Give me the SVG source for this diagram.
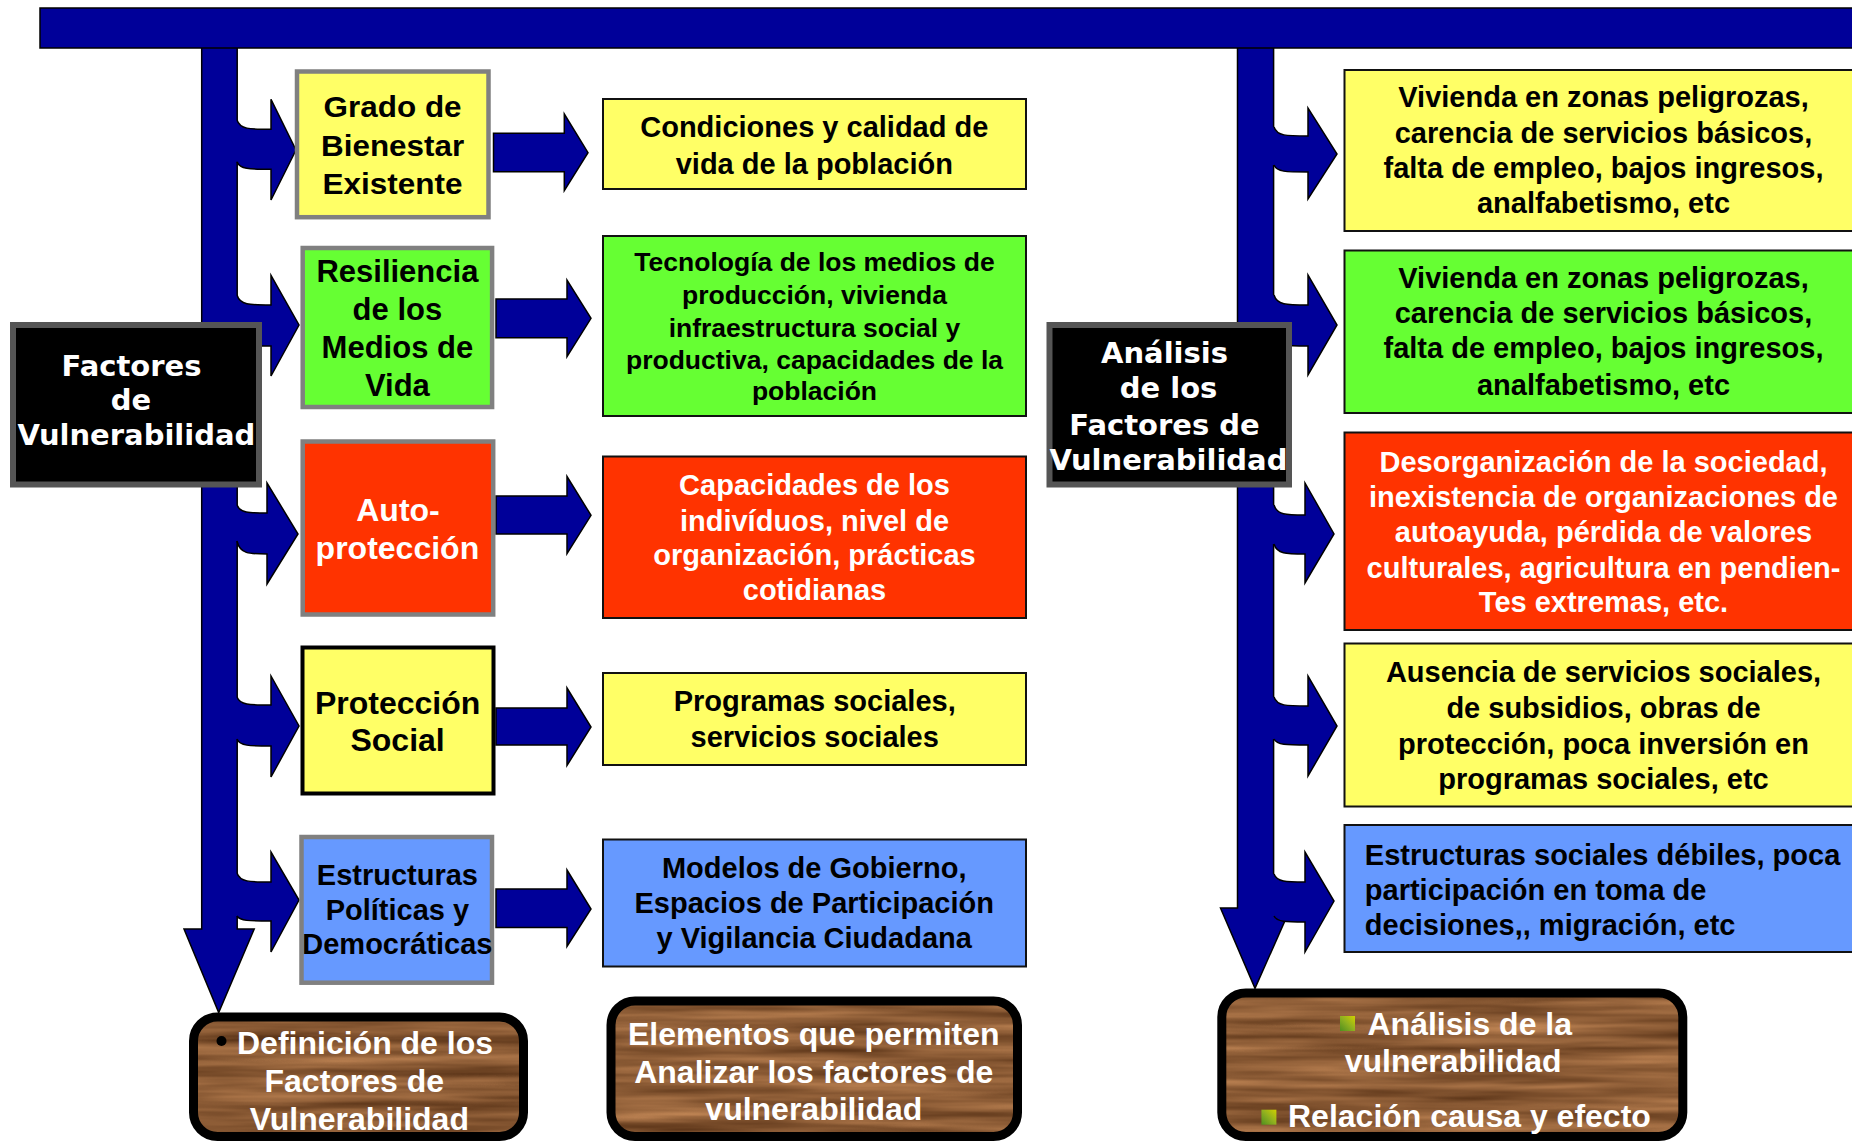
<svg xmlns="http://www.w3.org/2000/svg" width="1852" height="1142" viewBox="0 0 1852 1142">
<style>
.bar{fill:#000099;stroke:#000;stroke-width:1.5}
.af{fill:#000099;stroke:none}
.ao{fill:none;stroke:#000;stroke-width:1.5}
.blk{fill:#000;stroke:#555;stroke-width:6}
.gy{stroke:#808080;stroke-width:4.5}
.bk{stroke:#000;stroke-width:4}
.th{stroke:#111;stroke-width:2}
.y{fill:#FFFF66}.g{fill:#66FF33}.r{fill:#FF3300}.b{fill:#6699FF}
.wood-b{fill:none;stroke:#000;stroke-width:9}
.t{font-family:"Liberation Sans",Arial,sans-serif;font-weight:bold;text-anchor:middle;fill:#000}
.ts{font-family:"Liberation Sans",Arial,sans-serif;font-weight:bold;text-anchor:start;fill:#000}
.w{fill:#fff}
.dv{font-family:"DejaVu Sans",Verdana,sans-serif;font-weight:bold;fill:#fff;text-anchor:middle;font-size:29px}
</style>
<defs>
<filter id="wood" filterUnits="userSpaceOnUse" x="0" y="980" width="1852" height="170" color-interpolation-filters="sRGB">
<feTurbulence type="fractalNoise" baseFrequency="0.005 0.09" numOctaves="3" seed="7"/>
<feColorMatrix type="matrix" values="0.5 0 0 0 0.3  0.4 0 0 0 0.16  0.3 0 0 0 0.06  0 0 0 0 1"/>
</filter>
<clipPath id="c1"><rect x="193.5" y="1017" width="330" height="119.5" rx="24"/></clipPath>
<clipPath id="c2"><rect x="611" y="1001" width="406.5" height="135.5" rx="24"/></clipPath>
<clipPath id="c3"><rect x="1221.8" y="993" width="461" height="143.5" rx="24"/></clipPath>
<linearGradient id="sq" x1="0" y1="1" x2="1" y2="0">
<stop offset="0" stop-color="#4f8f1f"/><stop offset="0.5" stop-color="#8fb020"/><stop offset="1" stop-color="#d0d000"/>
</linearGradient>
</defs>

<g id="connectors">
<path class="bar" d="M201.7,46 L201.7,929 L184,929 L218.7,1012.6 L254.2,929 L237.2,929 L237.2,46 Z"/>
<path class="bar" d="M1237.5,46 L1237.5,908 L1220.5,908 L1255,988.4 L1290.6,908 L1273.6,908 L1273.6,46 Z"/>
<rect class="bar" x="40" y="8" width="1830" height="40"/>

<path class="af" d="M235,120 L237,120 C240,129.3 249,129.3 271,129.3 L271,99.3 L296,150 L271,200 L271,169.3 C249,169.3 240,169.3 237,161.7 L235,161.7 Z"/>
<path class="ao" d="M237,120 C240,129.3 249,129.3 271,129.3 L271,99.3 L296,150 L271,200 L271,169.3 C249,169.3 240,169.3 237,161.7"/>
<path class="af" d="M235,295 L237,295 C240,305 249,305 271,305 L271,275.3 L299,325 L271,376 L271,346 C249,346 240,346 237,338 L235,338 Z"/>
<path class="ao" d="M237,295 C240,305 249,305 271,305 L271,275.3 L299,325 L271,376 L271,346 C249,346 240,346 237,338"/>
<path class="af" d="M235,505 L237,505 C240,513 249,513 267,513 L267,483 L298,534 L267,584 L267,554 C249,554 240,554 237,541 L235,541 Z"/>
<path class="ao" d="M237,505 C240,513 249,513 267,513 L267,483 L298,534 L267,584 L267,554 C249,554 240,554 237,541"/>
<path class="af" d="M235,697 L237,697 C240,705 249,705 271,705 L271,676 L299,726 L271,777 L271,746 C249,746 240,746 237,739 L235,739 Z"/>
<path class="ao" d="M237,697 C240,705 249,705 271,705 L271,676 L299,726 L271,777 L271,746 C249,746 240,746 237,739"/>
<path class="af" d="M235,873 L237,873 C240,882 249,882 271,882 L271,852 L299,900 L271,952 L271,921 C249,921 240,921 237,916 L235,916 Z"/>
<path class="ao" d="M237,873 C240,882 249,882 271,882 L271,852 L299,900 L271,952 L271,921 C249,921 240,921 237,916"/>

<path class="af" d="M1272,127 L1274,127 C1277,136 1286,136 1308,136 L1308,108 L1337,154 L1308,199 L1308,172 C1286,172 1277,172 1274,165 L1272,165 Z"/>
<path class="ao" d="M1274,127 C1277,136 1286,136 1308,136 L1308,108 L1337,154 L1308,199 L1308,172 C1286,172 1277,172 1274,165"/>
<path class="af" d="M1272,295 L1274,295 C1277,305 1286,305 1308,305 L1308,275 L1337,325 L1308,375 L1308,346 C1286,346 1277,346 1274,338 L1272,338 Z"/>
<path class="ao" d="M1274,295 C1277,305 1286,305 1308,305 L1308,275 L1337,325 L1308,375 L1308,346 C1286,346 1277,346 1274,338"/>
<path class="af" d="M1272,505 L1274,505 C1277,515 1286,515 1305,515 L1305,483 L1334,534 L1305,583 L1305,554 C1286,554 1277,554 1274,544 L1272,544 Z"/>
<path class="ao" d="M1274,505 C1277,515 1286,515 1305,515 L1305,483 L1334,534 L1305,583 L1305,554 C1286,554 1277,554 1274,544"/>
<path class="af" d="M1272,697 L1274,697 C1277,706 1286,706 1308,706 L1308,676 L1337,726 L1308,776 L1308,745 C1286,745 1277,745 1274,739 L1272,739 Z"/>
<path class="ao" d="M1274,697 C1277,706 1286,706 1308,706 L1308,676 L1337,726 L1308,776 L1308,745 C1286,745 1277,745 1274,739"/>
<path class="af" d="M1272,874 L1274,874 C1277,882 1286,882 1305,882 L1305,852 L1334,901 L1305,952 L1305,922 C1286,922 1277,922 1274,916 L1272,916 Z"/>
<path class="ao" d="M1274,874 C1277,882 1286,882 1305,882 L1305,852 L1334,901 L1305,952 L1305,922 C1286,922 1277,922 1274,916"/>

<path class="bar" d="M493.5,133.3 L564.3,133.3 L564.3,114 L588,152.7 L564.3,190.7 L564.3,171.7 L493.5,171.7 Z"/>
<path class="bar" d="M496,299 L567,299 L567,280 L591,318.3 L567,356.7 L567,337.7 L496,337.7 Z"/>
<path class="bar" d="M496,496 L567,496 L567,476.5 L591,515.3 L567,553.7 L567,534 L496,534 Z"/>
<path class="bar" d="M496,708 L567,708 L567,688 L591,727 L567,765.5 L567,745 L496,745 Z"/>
<path class="bar" d="M496,889 L567,889 L567,870 L591,909 L567,946.5 L567,927.5 L496,927.5 Z"/>
</g>

<g id="factores">
<rect class="blk" x="13" y="325" width="246" height="159.5"/>
<text class="dv" x="131.5" y="375.7">Factores</text>
<text class="dv" x="131" y="410">de</text>
<text class="dv" x="136.4" y="445">Vulnerabilidad</text>
</g>
<g id="analisis">
<rect class="blk" x="1049.5" y="325" width="239.5" height="159.5"/>
<text class="dv" x="1164.5" y="363.3">Análisis</text>
<text class="dv" x="1168.5" y="398.3">de los</text>
<text class="dv" x="1164.5" y="435">Factores de</text>
<text class="dv" x="1168.5" y="470">Vulnerabilidad</text>
</g>

<g id="grado">
<rect class="y gy" x="297" y="71.5" width="191.5" height="145.7"/>
<text class="t" font-size="30" x="392.6" y="117.3" textLength="138" lengthAdjust="spacingAndGlyphs">Grado de</text>
<text class="t" font-size="30" x="392.6" y="156" textLength="143" lengthAdjust="spacingAndGlyphs">Bienestar</text>
<text class="t" font-size="30" x="392.6" y="194.3" textLength="140" lengthAdjust="spacingAndGlyphs">Existente</text>
</g>
<g id="resiliencia">
<rect class="g gy" x="302.7" y="248" width="189.4" height="159"/>
<text class="t" font-size="31" x="397.4" y="282">Resiliencia</text>
<text class="t" font-size="31" x="397.4" y="320">de los</text>
<text class="t" font-size="31" x="397.4" y="358.3">Medios de</text>
<text class="t" font-size="31" x="397.4" y="396">Vida</text>
</g>
<g id="autoproteccion">
<rect class="r gy" x="302.7" y="441.5" width="190.5" height="173"/>
<text class="t w" font-size="32" x="398" y="520.6">Auto-</text>
<text class="t w" font-size="32" x="397.4" y="559.4">protección</text>
</g>
<g id="proteccion-social">
<rect class="y bk" x="302.5" y="647.5" width="191" height="146"/>
<text class="t" font-size="32" x="397.6" y="714">Protección</text>
<text class="t" font-size="32" x="397.6" y="751.4">Social</text>
</g>
<g id="estructuras">
<rect class="b gy" x="301.5" y="837" width="190.5" height="145.7"/>
<text class="t" font-size="29" x="397.4" y="884.7">Estructuras</text>
<text class="t" font-size="29" x="397.4" y="920">Políticas y</text>
<text class="t" font-size="29" x="397.4" y="954.4">Democráticas</text>
</g>

<g id="condiciones">
<rect class="y th" x="603" y="99" width="423" height="90"/>
<text class="t" font-size="29" x="814.3" y="136.7">Condiciones y calidad de</text>
<text class="t" font-size="29" x="814.3" y="173.5">vida de la población</text>
</g>
<g id="tecnologia">
<rect class="g th" x="603" y="236" width="423" height="180"/>
<text class="t" font-size="26.5" x="814.5" y="271.4">Tecnología de los medios de</text>
<text class="t" font-size="26.5" x="814.5" y="304">producción, vivienda</text>
<text class="t" font-size="26.5" x="814.5" y="336.7">infraestructura social y</text>
<text class="t" font-size="26.5" x="814.5" y="368.6">productiva, capacidades de la</text>
<text class="t" font-size="26.5" x="814.5" y="400">población</text>
</g>
<g id="capacidades">
<rect class="r th" x="603" y="456.5" width="423" height="161.5"/>
<text class="t w" font-size="29" x="814.5" y="494.7">Capacidades de los</text>
<text class="t w" font-size="29" x="814.5" y="530.6">indivíduos, nivel de</text>
<text class="t w" font-size="29" x="814.5" y="565.3">organización, prácticas</text>
<text class="t w" font-size="29" x="814.5" y="600">cotidianas</text>
</g>
<g id="programas">
<rect class="y th" x="603" y="673" width="423" height="92"/>
<text class="t" font-size="29" x="814.7" y="711">Programas sociales,</text>
<text class="t" font-size="29" x="814.7" y="746.7">servicios sociales</text>
</g>
<g id="modelos">
<rect class="b th" x="603" y="839.5" width="423" height="127"/>
<text class="t" font-size="29" x="814.2" y="878.3">Modelos de Gobierno,</text>
<text class="t" font-size="29" x="814.2" y="913.3">Espacios de Participación</text>
<text class="t" font-size="29" x="814.2" y="948.3">y Vigilancia Ciudadana</text>
</g>

<g id="vivienda-1">
<rect class="y th" x="1344.5" y="70" width="520" height="161"/>
<text class="t" font-size="29" x="1603.5" y="107.3">Vivienda en zonas peligrozas,</text>
<text class="t" font-size="29" x="1603.5" y="143.3">carencia de servicios básicos,</text>
<text class="t" font-size="29" x="1603.5" y="178.3">falta de empleo, bajos ingresos,</text>
<text class="t" font-size="29" x="1603.5" y="212.7">analfabetismo, etc</text>
</g>
<g id="vivienda-2">
<rect class="g th" x="1344.5" y="250.5" width="520" height="162.5"/>
<text class="t" font-size="29" x="1603.5" y="288.3">Vivienda en zonas peligrozas,</text>
<text class="t" font-size="29" x="1603.5" y="323.3">carencia de servicios básicos,</text>
<text class="t" font-size="29" x="1603.5" y="358.3">falta de empleo, bajos ingresos,</text>
<text class="t" font-size="29" x="1603.5" y="395">analfabetismo, etc</text>
</g>
<g id="desorganizacion">
<rect class="r th" x="1344.5" y="432.5" width="520" height="197.5"/>
<text class="t w" font-size="29" x="1603.5" y="471.7">Desorganización de la sociedad,</text>
<text class="t w" font-size="29" x="1603.5" y="506.5">inexistencia de organizaciones de</text>
<text class="t w" font-size="29" x="1603.5" y="541.8">autoayuda, pérdida de valores</text>
<text class="t w" font-size="29" x="1603.5" y="578">culturales, agricultura en pendien-</text>
<text class="t w" font-size="29" x="1603.5" y="612.4">Tes extremas, etc.</text>
</g>
<g id="ausencia">
<rect class="y th" x="1344.5" y="643.5" width="520" height="163"/>
<text class="t" font-size="29" x="1603.5" y="681.7">Ausencia de servicios sociales,</text>
<text class="t" font-size="29" x="1603.5" y="718.3">de subsidios, obras de</text>
<text class="t" font-size="29" x="1603.5" y="753.6">protección, poca inversión en</text>
<text class="t" font-size="29" x="1603.5" y="789">programas sociales, etc</text>
</g>
<g id="estructuras-sociales">
<rect class="b th" x="1344.5" y="825" width="520" height="127"/>
<text class="ts" font-size="29" x="1364.8" y="864.8">Estructuras sociales débiles, poca</text>
<text class="ts" font-size="29" x="1364.8" y="900">participación en toma de</text>
<text class="ts" font-size="29" x="1364.8" y="934.6">decisiones,, migración, etc</text>
</g>

<g id="definicion">
<rect x="193.5" y="1017" width="330" height="119.5" fill="#8B5A2B" filter="url(#wood)" clip-path="url(#c1)"/>
<rect class="wood-b" x="193.5" y="1017" width="330" height="119.5" rx="24"/>
<circle cx="221.5" cy="1041" r="5" fill="#000"/>
<text class="ts w" font-size="32" x="237" y="1053.7">Definición de los</text>
<text class="t w" font-size="32" x="354.3" y="1092">Factores de</text>
<text class="t w" font-size="32" x="359.3" y="1129.6">Vulnerabilidad</text>
</g>
<g id="elementos">
<rect x="611" y="1001" width="406.5" height="135.5" fill="#8B5A2B" filter="url(#wood)" clip-path="url(#c2)"/>
<rect class="wood-b" x="611" y="1001" width="406.5" height="135.5" rx="24"/>
<text class="t w" font-size="32" x="813.8" y="1045">Elementos que permiten</text>
<text class="t w" font-size="32" x="813.8" y="1083.3">Analizar los factores de</text>
<text class="t w" font-size="32" x="813.8" y="1120">vulnerabilidad</text>
</g>
<g id="analisis-vulnerabilidad">
<rect x="1221.8" y="993" width="461" height="143.5" fill="#8B5A2B" filter="url(#wood)" clip-path="url(#c3)"/>
<rect class="wood-b" x="1221.8" y="993" width="461" height="143.5" rx="24"/>
<rect x="1340" y="1016" width="15" height="15" fill="url(#sq)"/>
<text class="ts w" font-size="32" x="1367.5" y="1034.7">Análisis de la</text>
<text class="ts w" font-size="32" x="1344.7" y="1072">vulnerabilidad</text>
<rect x="1261.4" y="1109.7" width="15" height="15" fill="url(#sq)"/>
<text class="ts w" font-size="32" x="1288" y="1127.4">Relación causa y efecto</text>
</g>
</svg>
